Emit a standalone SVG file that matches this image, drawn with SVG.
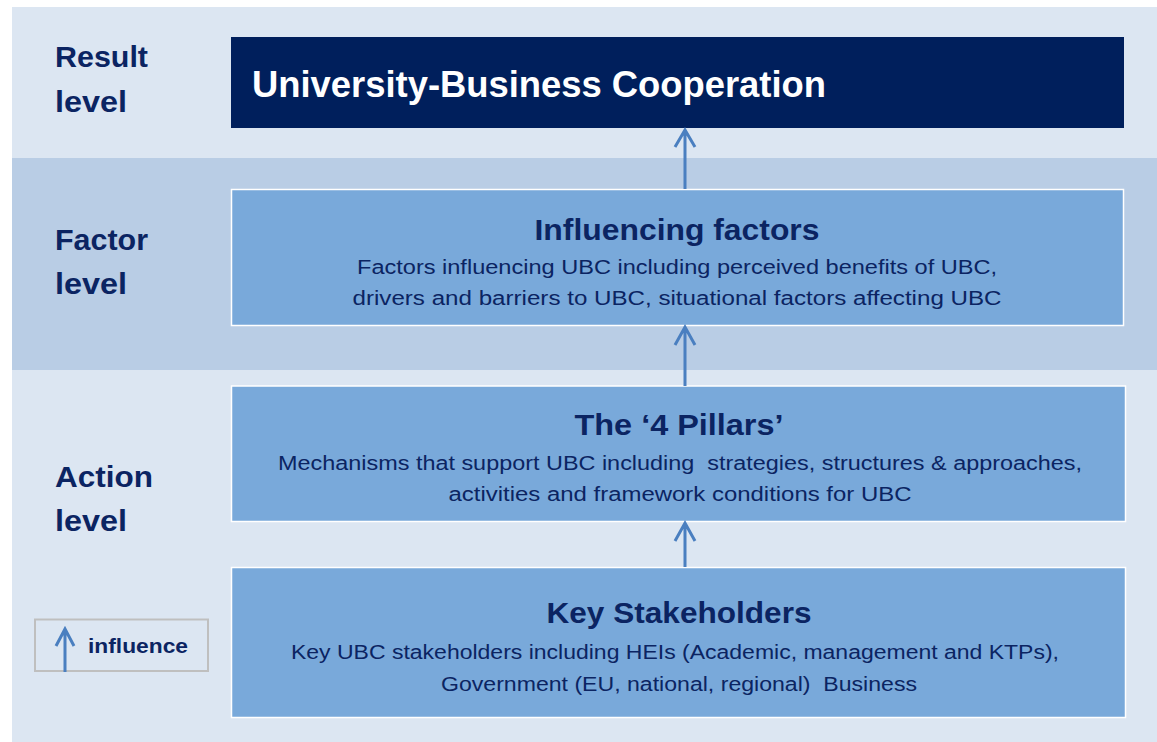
<svg xmlns="http://www.w3.org/2000/svg" width="1157" height="742" viewBox="0 0 1157 742">
<defs>
<style>
.lvl{font-family:"Liberation Sans",Arial,sans-serif;font-weight:bold;font-size:29px;fill:#0b2462}
.ttl{font-family:"Liberation Sans",Arial,sans-serif;font-weight:bold;font-size:29px;fill:#0b2462;text-anchor:middle}
.body{font-family:"Liberation Sans",Arial,sans-serif;font-size:20px;fill:#0b2462;text-anchor:middle;white-space:pre}
.box{fill:#79a9da;stroke:#ffffff;stroke-width:1.5}
.arr{fill:none;stroke:#4a7fc0;stroke-width:3}
</style>
</defs>
<g id="bands">
<rect x="12" y="7" width="1145" height="151" fill="#dce6f2"/>
<rect x="12" y="158" width="1145" height="212" fill="#b9cde5"/>
<rect x="12" y="370" width="1145" height="372" fill="#dce6f2"/>
</g>
<g id="level-labels">
<text class="lvl" x="55" y="67" textLength="93" lengthAdjust="spacingAndGlyphs">Result</text>
<text class="lvl" x="55" y="112" textLength="72" lengthAdjust="spacingAndGlyphs">level</text>
<text class="lvl" x="55" y="250" textLength="93" lengthAdjust="spacingAndGlyphs">Factor</text>
<text class="lvl" x="55" y="294" textLength="72" lengthAdjust="spacingAndGlyphs">level</text>
<text class="lvl" x="55" y="487" textLength="98" lengthAdjust="spacingAndGlyphs">Action</text>
<text class="lvl" x="55" y="531" textLength="72" lengthAdjust="spacingAndGlyphs">level</text>
</g>
<g id="node-result">
<rect x="231" y="37" width="893" height="91" fill="#001f5c"/>
<text x="252" y="97" font-family="'Liberation Sans',Arial,sans-serif" font-weight="bold" font-size="36" fill="#ffffff" textLength="574" lengthAdjust="spacingAndGlyphs">University-Business Cooperation</text>
</g>
<g id="node-factors">
<rect class="box" x="231.5" y="189.5" width="892" height="136"/>
<text class="ttl" x="677" y="240" textLength="285" lengthAdjust="spacingAndGlyphs">Influencing factors</text>
<text class="body" x="677" y="274" textLength="640" lengthAdjust="spacingAndGlyphs">Factors influencing UBC including perceived benefits of UBC,</text>
<text class="body" x="677" y="305" textLength="649" lengthAdjust="spacingAndGlyphs">drivers and barriers to UBC, situational factors affecting UBC</text>
</g>
<g id="node-pillars">
<rect class="box" x="231.5" y="386" width="894" height="135.5"/>
<text class="ttl" x="679" y="435" textLength="209" lengthAdjust="spacingAndGlyphs">The ‘4 Pillars’</text>
<text class="body" x="680" y="470" textLength="804" lengthAdjust="spacingAndGlyphs" xml:space="preserve">Mechanisms that support UBC including  strategies, structures &amp; approaches,</text>
<text class="body" x="680" y="501" textLength="463" lengthAdjust="spacingAndGlyphs">activities and framework conditions for UBC</text>
</g>
<g id="node-stakeholders">
<rect class="box" x="231.5" y="567.5" width="894" height="150"/>
<text class="ttl" x="679" y="623" textLength="265" lengthAdjust="spacingAndGlyphs">Key Stakeholders</text>
<text class="body" x="675" y="659" textLength="768" lengthAdjust="spacingAndGlyphs">Key UBC stakeholders including HEIs (Academic, management and KTPs),</text>
<text class="body" x="679" y="691" textLength="476" lengthAdjust="spacingAndGlyphs" xml:space="preserve">Government (EU, national, regional)  Business</text>
</g>
<g id="connectors">
<path class="arr" d="M685 189 V130 M675 147 L685 130 L695 147"/>
<path class="arr" d="M685 386 V327 M675 345 L685 327 L695 345"/>
<path class="arr" d="M685 567 V523 M675 541 L685 523 L695 541"/>
</g>
<g id="legend">
<rect x="35" y="619.5" width="173" height="51.5" fill="none" stroke="#bfbfbf" stroke-width="2"/>
<path class="arr" d="M65 672 V629 M56 646 L65 629 L74 646"/>
<text x="88" y="653" font-family="'Liberation Sans',Arial,sans-serif" font-weight="bold" font-size="20" fill="#0b2462" textLength="100" lengthAdjust="spacingAndGlyphs">influence</text>
</g>
</svg>
